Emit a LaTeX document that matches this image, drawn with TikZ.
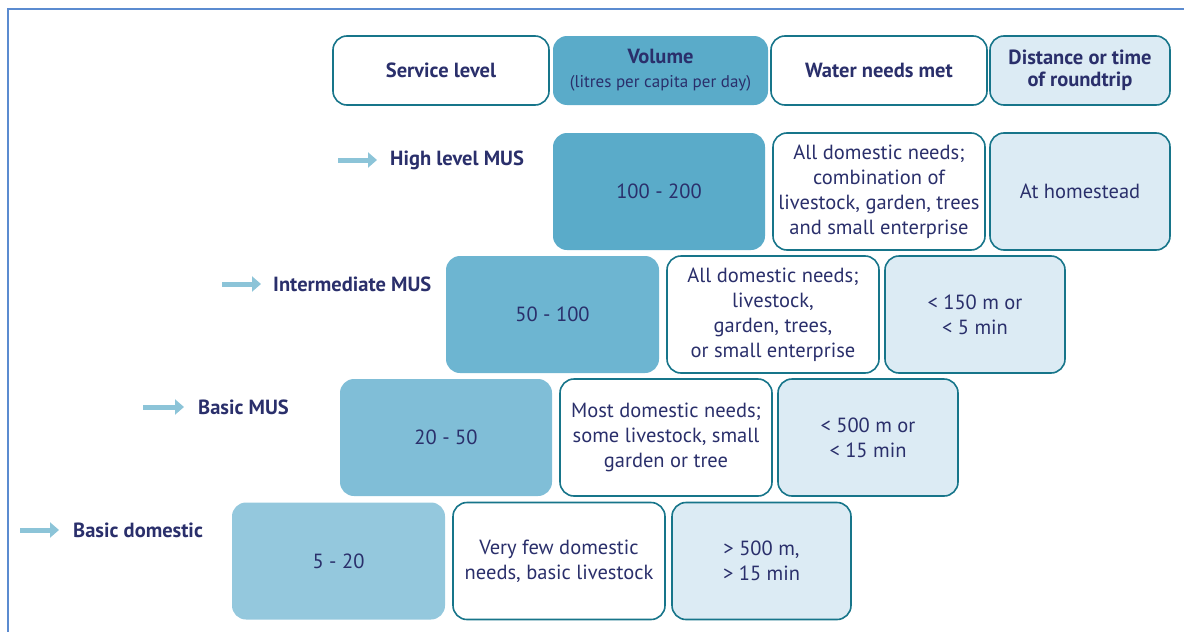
\documentclass[tikz,border=0pt]{standalone}
\usepackage{fontspec}
\setmainfont{PT Sans}
\usetikzlibrary{arrows.meta}
\definecolor{navy}{HTML}{2A2F6B}
\definecolor{teal}{HTML}{17758A}
\definecolor{vol1}{HTML}{5AABC9}
\definecolor{vol2}{HTML}{6DB5D1}
\definecolor{vol3}{HTML}{80BED7}
\definecolor{vol4}{HTML}{94C8DD}
\definecolor{pale}{HTML}{DCEBF4}
\definecolor{arrowc}{HTML}{8CC4D8}
\definecolor{framec}{HTML}{5B8BD0}
\tikzset{
  box/.style={rectangle, rounded corners=14pt, inner sep=0pt, align=center,
    text=navy, font=\fontsize{20.5}{25}\selectfont, line width=1.6pt},
  whitebox/.style={box, draw=teal, fill=white},
  palebox/.style={box, draw=teal, fill=pale},
  volbox/.style={box, draw=none},
  hdr/.style={minimum height=69pt},
  hfont/.style={font=\fontsize{20.5}{22}\selectfont\bfseries},
  rowh/.style={minimum height=117pt},
  lvl/.style={anchor=west, inner sep=0pt, text=navy, font=\fontsize{20.5}{22}\selectfont\bfseries},
  arr/.style={arrowc, line width=5pt, -{Triangle[length=9pt,width=15pt]}},
}
\begin{document}
\begin{tikzpicture}[x=1pt,y=-1pt]
\useasboundingbox (0,0) rectangle (1184,632);
\draw[framec, line width=2pt] (8,632) -- (8,9) -- (1184,9);

% header
\node[whitebox, hdr, hfont, minimum width=216pt] (hs) at (441,70.5) {Service level};
\node[volbox, hdr, fill=vol1, minimum width=215pt] (hv) at (660.5,70.5) {{\fontsize{20.5}{20}\selectfont\bfseries Volume}\\[-1pt]{\fontsize{17}{18}\selectfont (litres per capita per day)}};
\node[whitebox, hdr, hfont, minimum width=216pt] (hw) at (879,70.5) {Water needs met};
\node[palebox, hdr, hfont, minimum width=180pt] (hd) at (1080,70.5) {Distance or time\\of roundtrip};

% row 1
\coordinate (a1s) at (338,160); \coordinate (a1e) at (377,160);
\draw[arr] (a1s) -- (a1e);
\node[lvl] (l1) at (390,160) {High level MUS};
\node[volbox, rowh, fill=vol1, minimum width=212pt] (v1) at (659,191.5) {100 - 200};
\node[whitebox, rowh, minimum width=212pt] (w1) at (879,191.5) {All domestic needs;\\combination of\\livestock, garden, trees\\and small enterprise};
\node[palebox, rowh, minimum width=180pt] (d1) at (1080,191.5) {At homestead};

% row 2
\coordinate (a2s) at (222,284); \coordinate (a2e) at (261,284);
\draw[arr] (a2s) -- (a2e);
\node[lvl] (l2) at (273,284) {Intermediate MUS};
\node[volbox, rowh, fill=vol2, minimum width=213pt] (v2) at (552.5,314.5) {50 - 100};
\node[whitebox, rowh, minimum width=212pt] (w2) at (773,314.5) {All domestic needs;\\livestock,\\garden, trees,\\or small enterprise};
\node[palebox, rowh, minimum width=180pt] (d2) at (975,314.5) {< 150 m or\\< 5 min};

% row 3
\coordinate (a3s) at (143,407); \coordinate (a3e) at (184,407);
\draw[arr] (a3s) -- (a3e);
\node[lvl] (l3) at (198,407) {Basic MUS};
\node[volbox, rowh, fill=vol3, minimum width=212pt] (v3) at (446,437.5) {20 - 50};
\node[whitebox, rowh, minimum width=212pt] (w3) at (666,437.5) {Most domestic needs;\\some livestock, small\\garden or tree};
\node[palebox, rowh, minimum width=180pt] (d3) at (868,437.5) {< 500 m or\\< 15 min};

% row 4
\coordinate (a4s) at (20,530); \coordinate (a4e) at (59,530);
\draw[arr] (a4s) -- (a4e);
\node[lvl] (l4) at (73,530) {Basic domestic};
\node[volbox, rowh, fill=vol4, minimum width=213pt] (v4) at (338.5,561) {5 - 20};
\node[whitebox, rowh, minimum width=212pt] (w4) at (559,561) {Very few domestic\\needs, basic livestock};
\node[palebox, rowh, minimum width=179pt] (d4) at (761.5,561) {> 500 m,\\> 15 min};
\end{tikzpicture}
\end{document}
